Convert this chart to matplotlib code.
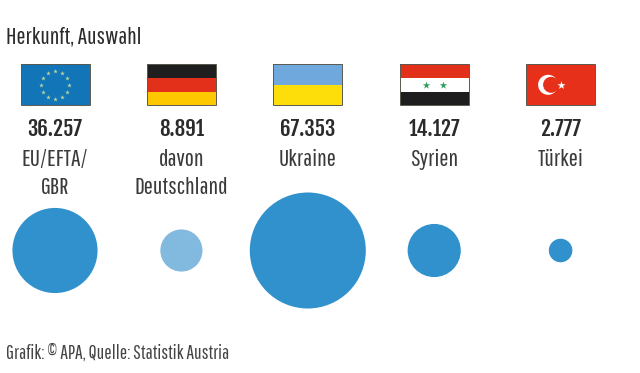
import logging
import numpy as np
import matplotlib
matplotlib.use('Agg')
import matplotlib.pyplot as plt
from matplotlib.patches import Rectangle, Circle

logging.getLogger('matplotlib.font_manager').setLevel(logging.ERROR)

# narrow fonts first, plain ones if they are missing
regular_font = ['Pathway Gothic One', 'Barlow Condensed', 'Liberation Sans', 'DejaVu Sans']
bold_font = ['Fjalla One', 'Barlow Condensed', 'Liberation Sans', 'DejaVu Sans']

# data
title = 'Herkunft, Auswahl'
source = 'Grafik: © APA, Quelle: Statistik Austria'
values = [36257, 8891, 67353, 14127, 2777]
value_labels = ['36.257', '8.891', '67.353', '14.127', '2.777']
names = ['EU/EFTA/\nGBR', 'davon\nDeutschland', 'Ukraine', 'Syrien', 'Türkei']
circle_colors = ['#3191cc', '#82b9de', '#3191cc', '#3191cc', '#3191cc']

text_col = '#2b2b2b'
centers = 55 + 126.4 * np.arange(len(values))
flag_w = 69
flag_h = 41
flag_top = 64.3
circle_y = 250.5
max_r = 58


def stripes(ax, cx, colors):
    # horizontal stripes, top to bottom
    h = flag_h / len(colors)
    for i, c in enumerate(colors):
        ax.add_patch(Rectangle((cx - flag_w / 2, flag_top + i * h), flag_w, h, fc=c, ec='none', zorder=2))


fig = plt.figure(figsize=(6.4, 3.73), dpi=100)
ax = fig.add_axes([0, 0, 1, 1])
ax.set_xlim(0, 640)
ax.set_ylim(373, 0)
ax.axis('off')

ax.text(6.5, 37, title, fontsize=17.4, color=text_col, va='center', ha='left', family=regular_font)
ax.text(6.5, 353, source, fontsize=14, color='#444444', va='center', ha='left', family=regular_font)

# flags
cy = flag_top + flag_h / 2
stripes(ax, centers[0], ['#1175b8'])
ang = np.arange(12) * np.pi / 6
ax.scatter(centers[0] + 14 * np.cos(ang), cy + 14 * np.sin(ang), marker='*', s=12, c='#b9d6a0', linewidths=0, zorder=3)
stripes(ax, centers[1], ['#1e1e1e', '#e3301a', '#fdc800'])
stripes(ax, centers[2], ['#6fa8dc', '#fede0a'])
stripes(ax, centers[3], ['#e3301a', '#ffffff', '#1e1e1e'])
ax.scatter([centers[3] - 8.5, centers[3] + 8.5], [cy, cy], marker='*', s=32, c='#2f9e5b', linewidths=0, zorder=3)
stripes(ax, centers[4], ['#e6301a'])
ax.add_patch(Circle((centers[4] - 12.5, cy), 10, fc='white', ec='none', zorder=3))
ax.add_patch(Circle((centers[4] - 9.5, cy), 8, fc='#e6301a', ec='none', zorder=4))
ax.scatter([centers[4]], [cy], marker='*', s=38, c='white', linewidths=0, zorder=4)
for cx in centers:
    ax.add_patch(Rectangle((cx - flag_w / 2, flag_top), flag_w, flag_h, fc='none', ec='#5a5a50', lw=0.7, zorder=5))

# labels
for cx, v, n in zip(centers, value_labels, names):
    ax.text(cx, 129.5, v, fontsize=15, color=text_col, ha='center', va='center', family=bold_font)
    parts = n.split('\n')
    ax.text(cx, 160, parts[0], fontsize=17.5, color='#3a3a3a', ha='center', va='center', family=regular_font)
    if len(parts) > 1:
        ax.text(cx, 187, parts[1], fontsize=17.5, color='#3a3a3a', ha='center', va='center', family=regular_font)

# circles, area proportional to value
for cx, v, c in zip(centers, values, circle_colors):
    r = max_r * np.sqrt(v / max(values))
    ax.add_patch(Circle((cx, circle_y), r, fc=c, ec='none'))

fig.savefig('out.png', dpi=100, facecolor='white')
